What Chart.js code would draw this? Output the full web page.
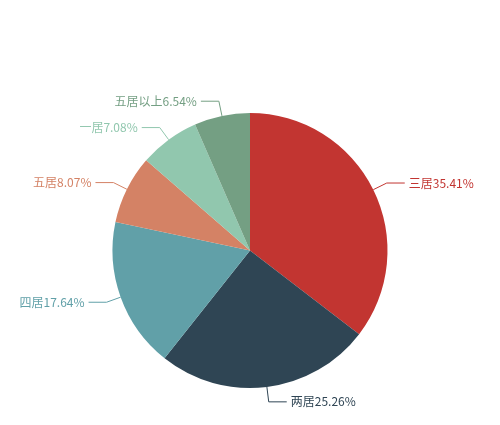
<!DOCTYPE html>
<html><head><meta charset="utf-8">
<script src="https://cdn.jsdelivr.net/npm/chart.js@4/dist/chart.umd.min.js"></script>
<style>body{margin:0;background:#fff}</style></head>
<body><canvas id="c" width="500" height="425"></canvas>
<script>
const categories=['三居','两居','四居','五居','一居','五居以上'];
const values=[35.41,25.26,17.64,8.07,7.08,6.54];
const colors=['#c23531','#2f4554','#61a0a8','#d48265','#91c7ae','#749f83'];
const labelPlugin={id:'lbl',afterDatasetsDraw(chart){
 const ctx=chart.ctx;const meta=chart.getDatasetMeta(0);
 ctx.save();ctx.font='12px "Noto Sans CJK SC", sans-serif';ctx.textBaseline='middle';
 meta.data.forEach((a,i)=>{
  const mid=(a.startAngle+a.endAngle)/2,r=a.outerRadius;
  const x0=a.x+Math.cos(mid)*r,y0=a.y+Math.sin(mid)*r;
  const x1=a.x+Math.cos(mid)*(r+15),y1=a.y+Math.sin(mid)*(r+15);
  const right=Math.cos(mid)>=0;const x2=x1+(right?18:-18);
  ctx.strokeStyle=colors[i];ctx.lineWidth=1;ctx.beginPath();ctx.moveTo(x0,y0);ctx.lineTo(x1,y1);ctx.lineTo(x2,y1);ctx.stroke();
  ctx.fillStyle=colors[i];ctx.textAlign=right?'left':'right';
  ctx.fillText(categories[i]+values[i].toFixed(2)+'%',x2+(right?4:-4),y1);
 });ctx.restore();}};
new Chart(document.getElementById('c'),{type:'pie',
 data:{labels:categories,datasets:[{data:values,backgroundColor:colors,borderWidth:0}]},
 options:{responsive:false,animation:false,layout:{padding:{top:113,bottom:37}},
  plugins:{legend:{display:false},tooltip:{enabled:false}}},
 plugins:[labelPlugin]});
</script></body></html>
